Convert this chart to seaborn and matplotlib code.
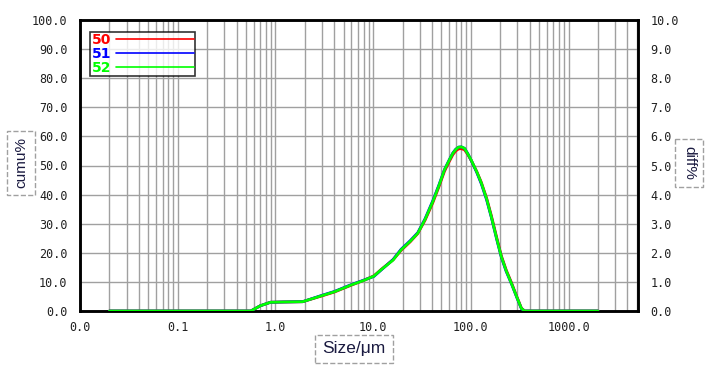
import numpy as np
import pandas as pd
import matplotlib
matplotlib.use("Agg")
import matplotlib.pyplot as plt
import seaborn as sns
from matplotlib.ticker import FixedLocator, NullFormatter

# particle size (um) and differential distribution (%) for samples 50, 51, 52
sizes = [0.02, 0.05, 0.1, 0.2, 0.4, 0.56, 0.7, 0.89, 1.2, 1.9, 3.0, 4.0, 6.0, 8.0,
         10.2, 12.0, 16.0, 19.3, 24.0, 28.6, 34.0, 40.8, 47.0, 53.7, 60.0, 65.4,
         70.0, 74.8, 80.0, 86.1, 93.0, 101.0, 115.0, 128.0, 145.0, 162.0, 185.0,
         205.0, 230.0, 260.0, 295.0, 329.0, 355.0, 500.0, 1000.0, 2000.0]
diff_50 = [0, 0, 0, 0, 0, 0.0, 0.18, 0.30, 0.31, 0.32, 0.52, 0.65, 0.89, 1.05,
           1.21, 1.42, 1.76, 2.08, 2.38, 2.66, 3.12, 3.72, 4.26, 4.80, 5.13, 5.37,
           5.50, 5.57, 5.58, 5.54, 5.38, 5.17, 4.79, 4.42, 3.88, 3.28, 2.49,
           1.90, 1.41, 0.98, 0.50, 0.10, 0.0, 0, 0, 0]
diff_51 = [0, 0, 0, 0, 0, 0.0, 0.18, 0.30, 0.31, 0.32, 0.54, 0.67, 0.91, 1.06,
           1.19, 1.40, 1.77, 2.12, 2.42, 2.69, 3.17, 3.79, 4.32, 4.86, 5.19, 5.43,
           5.56, 5.63, 5.64, 5.59, 5.41, 5.17, 4.76, 4.37, 3.82, 3.22, 2.43,
           1.85, 1.36, 0.94, 0.47, 0.08, 0.0, 0, 0, 0]
diff_52 = [0, 0, 0, 0, 0, 0.0, 0.18, 0.30, 0.31, 0.32, 0.53, 0.66, 0.90, 1.05,
           1.20, 1.41, 1.75, 2.10, 2.40, 2.67, 3.15, 3.76, 4.30, 4.85, 5.18, 5.42,
           5.55, 5.63, 5.64, 5.59, 5.40, 5.18, 4.78, 4.40, 3.85, 3.24, 2.45,
           1.87, 1.38, 0.95, 0.48, 0.09, 0.0, 0, 0, 0]
series_names = ["50", "51", "52"]
series_colors = ["#ff0000", "#0000ff", "#00ff00"]

x_ticks = [0.01, 0.1, 1, 10, 100, 1000]
x_labels = ["0.0", "0.1", "1.0", "10.0", "100.0", "1000.0"]

df = pd.DataFrame({
    "size": sizes * 3,
    "diff": diff_50 + diff_51 + diff_52,
    "sample": [n for n in series_names for _ in sizes],
})

sns.set_style("white")
plt.rcParams['font.family'] = ['DejaVu Sans']

fig = plt.figure(figsize=(7.11, 3.78), dpi=100)
ax = fig.add_axes([80 / 711, 67 / 378, 557.7 / 711, 291 / 378])
ax.set_xscale("log")
ax.set_xlim(0.01, 5100)
ax.set_ylim(0, 100)

minors = [m * 10.0 ** e for e in range(-2, 4) for m in range(2, 10)]
ax.xaxis.set_major_locator(FixedLocator(x_ticks))
ax.xaxis.set_minor_locator(FixedLocator(minors))
ax.xaxis.set_minor_formatter(NullFormatter())
ax.set_xticklabels(x_labels)
ax.set_yticks(np.arange(0, 101, 10))
ax.set_yticklabels([f"{v:.1f}" for v in np.arange(0, 101, 10)])
ax.grid(True, which="both", color="#a0a0a0", lw=1.0)
ax.set_axisbelow(True)
ax.tick_params(axis="both", which="both", length=0, labelsize=8.5, colors="#202020")
ax.tick_params(axis="y", pad=9)
ax.tick_params(axis="x", pad=7)
for lab in ax.get_xticklabels() + ax.get_yticklabels():
    lab.set_family("DejaVu Sans Mono")

ax2 = ax.twinx()
ax2.set_ylim(0, 10)
ax2.set_yticks(np.arange(0, 11, 1))
ax2.set_yticklabels([f"{v:.1f}" for v in np.arange(0, 11, 1)])
ax2.tick_params(axis="y", length=0, labelsize=8.5, colors="#202020", pad=9)
for lab in ax2.get_yticklabels():
    lab.set_family("DejaVu Sans Mono")

sns.lineplot(data=df, x="size", y="diff", hue="sample", palette=series_colors,
             hue_order=series_names, ax=ax2, lw=2, estimator=None, sort=False)
ax2.set_xlabel("")
ax2.set_ylabel("")

for a in (ax, ax2):
    for s in a.spines.values():
        s.set_color("black")
        s.set_linewidth(1.8)
        s.set_zorder(1)

leg = ax2.legend(loc="upper left", bbox_to_anchor=(0.018, 0.96), frameon=True,
                 fancybox=False, edgecolor="black", handlelength=5.6,
                 markerfirst=False, labelcolor="linecolor", borderpad=0.1,
                 labelspacing=0.0, handletextpad=0.35, borderaxespad=0,
                 prop={"family": "DejaVu Sans", "weight": "bold", "size": 10})
leg.get_frame().set_linewidth(1.2)
for line in leg.get_lines():
    line.set_linewidth(1.2)

box = dict(boxstyle="square,pad=0.45", fc="white", ec="#a0a0a0", ls="--", lw=1)
fig.text(21 / 711, 1 - 163 / 378, "cumu%", rotation=90, ha="center", va="center",
         fontsize=11, color="#1a1a40", family="Liberation Sans", bbox=box)
fig.text(689 / 711, 1 - 163 / 378, "diff%", rotation=-90, ha="center", va="center",
         fontsize=11, color="#1a1a40", family="Liberation Sans", bbox=box)
box2 = dict(boxstyle="square,pad=0.4", fc="white", ec="#a0a0a0", ls="--", lw=1)
fig.text(354 / 711, 1 - 349 / 378, "Size/μm", ha="center", va="center",
         fontsize=12.5, color="#1a1a40", family="Liberation Sans", bbox=box2)

fig.savefig("out.png", dpi=100)
